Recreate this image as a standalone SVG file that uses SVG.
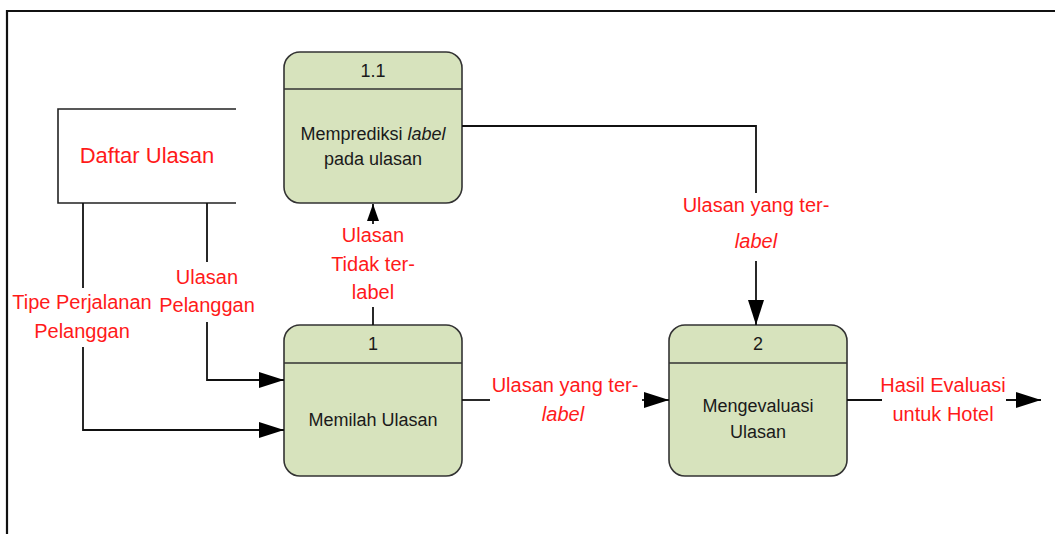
<svg xmlns="http://www.w3.org/2000/svg" width="1055" height="534" viewBox="0 0 1055 534">
<defs>
<style>
.frame{fill:none;stroke:#111;stroke-width:2.2}
.store{fill:#fff;stroke:#222;stroke-width:1.6}
.proc{fill:#d7e3bd;stroke:#333;stroke-width:1.6}
.div{stroke:#333;stroke-width:1.6}
.conn{fill:none;stroke:#111;stroke-width:1.8}
.ntext{font-family:"Liberation Sans",Arial,sans-serif;font-size:18px;fill:#1a1a1a;text-anchor:middle}
.ltext{font-family:"Liberation Sans",Arial,sans-serif;font-size:20px;fill:#ff1a1a;text-anchor:middle}
.it{font-style:italic}
</style>
<marker id="arr" markerUnits="userSpaceOnUse" markerWidth="26" markerHeight="16" refX="25" refY="8" orient="auto">
<path d="M0,0 L25,8 L0,16 z" fill="#000"/>
</marker>
<marker id="arrs" markerUnits="userSpaceOnUse" markerWidth="18" markerHeight="12" refX="17" refY="6" orient="auto">
<path d="M0,0 L17,6 L0,12 z" fill="#000"/>
</marker>
</defs>
<rect width="1055" height="534" fill="#fff"/>
<path class="frame" d="M7,534 V11 H1055"/>

<g id="store-daftar-ulasan">
<path class="store" d="M236,109 H58 V203 H236"/>
<text class="ltext" x="147" y="163" style="font-size:22px">Daftar Ulasan</text>
</g>

<g id="proc-1-1">
<rect class="proc" x="284" y="52" width="178" height="151" rx="16"/>
<line class="div" x1="284" y1="89" x2="462" y2="89"/>
<text class="ntext" x="373" y="77">1.1</text>
<text class="ntext" x="373" y="140">Memprediksi <tspan class="it">label</tspan></text>
<text class="ntext" x="373" y="165">pada ulasan</text>
</g>

<g id="proc-1">
<rect class="proc" x="284" y="325" width="178" height="151" rx="16"/>
<line class="div" x1="284" y1="363" x2="462" y2="363"/>
<text class="ntext" x="373" y="350">1</text>
<text class="ntext" x="373" y="426">Memilah Ulasan</text>
</g>

<g id="proc-2">
<rect class="proc" x="669" y="325" width="178" height="151" rx="16"/>
<line class="div" x1="669" y1="363" x2="847" y2="363"/>
<text class="ntext" x="758" y="350">2</text>
<text class="ntext" x="758" y="412">Mengevaluasi</text>
<text class="ntext" x="758" y="438">Ulasan</text>
</g>

<g id="connectors">
<path class="conn" d="M83,203 V288"/>
<path class="conn" d="M83,347 V430 H284" marker-end="url(#arr)"/>
<text class="ltext" x="82" y="309">Tipe Perjalanan</text>
<text class="ltext" x="82" y="338">Pelanggan</text>

<path class="conn" d="M207,203 V262"/>
<path class="conn" d="M207,322 V380 H284" marker-end="url(#arr)"/>
<text class="ltext" x="207" y="284">Ulasan</text>
<text class="ltext" x="207" y="312">Pelanggan</text>

<path class="conn" d="M373,325 V307"/>
<path class="conn" d="M373,224 V204" marker-end="url(#arrs)"/>
<text class="ltext" x="373" y="242">Ulasan</text>
<text class="ltext" x="373" y="271">Tidak ter-</text>
<text class="ltext" x="373" y="299">label</text>

<path class="conn" d="M462,126 H756 V193"/>
<path class="conn" d="M756,261 V325" marker-end="url(#arr)"/>
<text class="ltext" x="756" y="212">Ulasan yang ter-</text>
<text class="ltext it" x="756" y="248">label</text>

<path class="conn" d="M462,400 H490"/>
<path class="conn" d="M642,400 H669" marker-end="url(#arr)"/>
<text class="ltext" x="565" y="392">Ulasan yang ter-</text>
<text class="ltext it" x="563" y="421">label</text>

<path class="conn" d="M847,400 H882"/>
<path class="conn" d="M1006,400 H1041" marker-end="url(#arr)"/>
<text class="ltext" x="943" y="392">Hasil Evaluasi</text>
<text class="ltext" x="943" y="421">untuk Hotel</text>
</g>
</svg>
